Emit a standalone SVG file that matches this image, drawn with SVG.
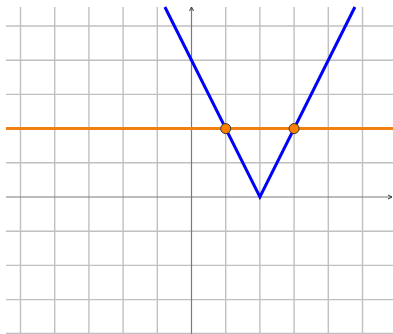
<svg xmlns="http://www.w3.org/2000/svg" width="393" height="334" viewBox="0 0 393 334">
<style>
.grid line{stroke:#c0c0c0;stroke-width:1.4}
.axis{stroke:#7a7a7a;stroke-width:1.2;fill:none}
.graph{stroke:#0000ff;stroke-width:3;fill:none;stroke-linejoin:miter}
.hline{stroke:#f08010;stroke-width:3}
.pt{fill:#ff8000;stroke:#333333;stroke-width:1}
</style>
<defs>
<marker id="arr" viewBox="0 0 6 6" refX="5" refY="3" markerWidth="6" markerHeight="6" orient="auto" markerUnits="userSpaceOnUse">
<path d="M1,1 L5,3 L1,5" fill="none" stroke="#333" stroke-width="1"/>
</marker>
</defs>
<rect width="393" height="334" fill="#ffffff"/>
<g id="grid" class="grid">
<line x1="20.5" y1="7" x2="20.5" y2="334"/>
<line x1="54.7" y1="7" x2="54.7" y2="334"/>
<line x1="88.9" y1="7" x2="88.9" y2="334"/>
<line x1="123.1" y1="7" x2="123.1" y2="334"/>
<line x1="157.3" y1="7" x2="157.3" y2="334"/>
<line x1="225.7" y1="7" x2="225.7" y2="334"/>
<line x1="259.9" y1="7" x2="259.9" y2="334"/>
<line x1="294.1" y1="7" x2="294.1" y2="334"/>
<line x1="328.3" y1="7" x2="328.3" y2="334"/>
<line x1="362.5" y1="7" x2="362.5" y2="334"/>
<line x1="6" y1="26" x2="393" y2="26"/>
<line x1="6" y1="60.2" x2="393" y2="60.2"/>
<line x1="6" y1="94.4" x2="393" y2="94.4"/>
<line x1="6" y1="162.8" x2="393" y2="162.8"/>
<line x1="6" y1="231.2" x2="393" y2="231.2"/>
<line x1="6" y1="265.4" x2="393" y2="265.4"/>
<line x1="6" y1="299.6" x2="393" y2="299.6"/>
<line x1="6" y1="333.5" x2="393" y2="333.5"/>
</g>
<g id="axes">
<line class="axis" x1="6" y1="197" x2="392" y2="197" marker-end="url(#arr)"/>
<line class="axis" x1="191.5" y1="334" x2="191.5" y2="7" marker-end="url(#arr)"/>
</g>
<g id="connectors">
<polyline id="abs-graph" class="graph" points="164.9,7 259.9,197 354.9,7"/>
<line id="horizontal" class="hline" x1="6" y1="128.6" x2="393" y2="128.6"/>
</g>
<g id="point-A"><circle class="pt" cx="225.7" cy="128.6" r="5"/></g>
<g id="point-B"><circle class="pt" cx="294.1" cy="128.6" r="5"/></g>
</svg>
